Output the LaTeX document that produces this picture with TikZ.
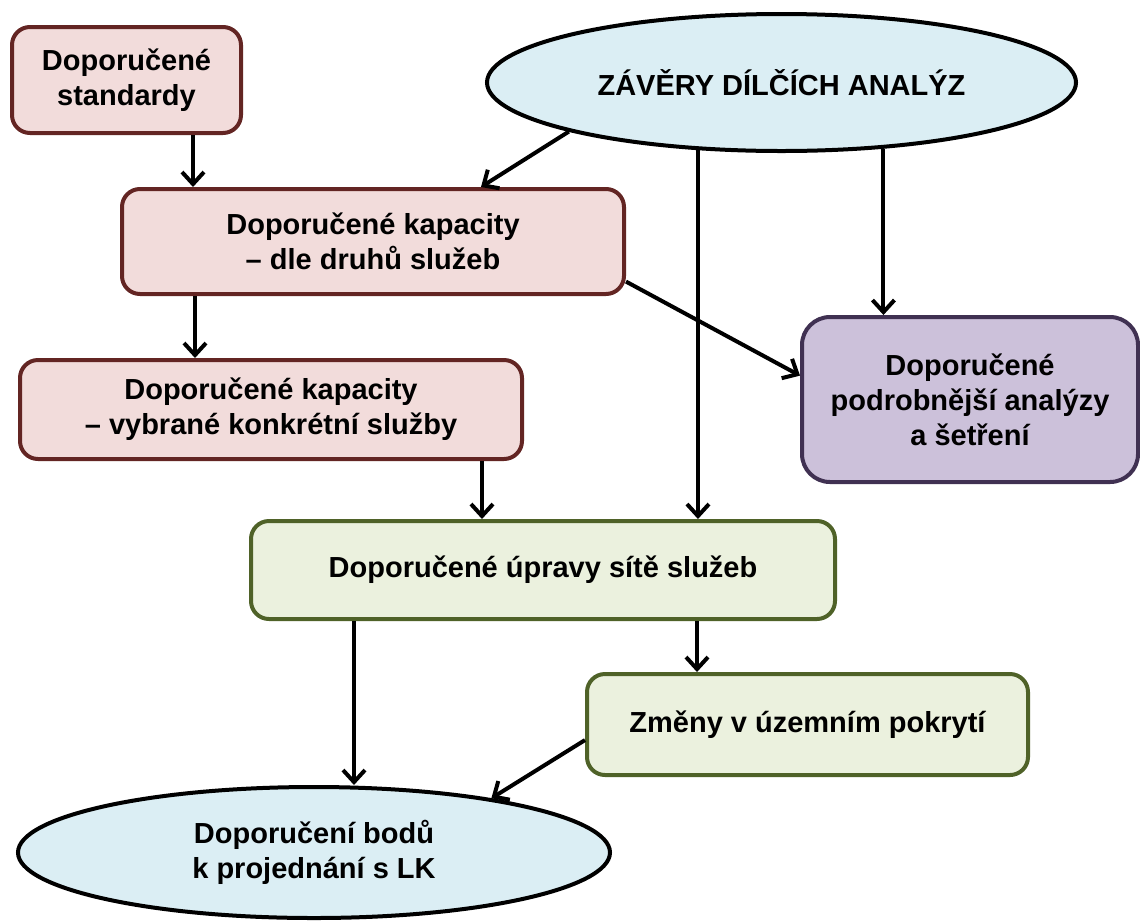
\documentclass[tikz,border=0pt]{standalone}
\usepackage{fontspec}
\setmainfont{Liberation Sans}
\usetikzlibrary{shapes.geometric,arrows.meta}
\definecolor{pinkfill}{HTML}{F2DCDB}
\definecolor{pinkdraw}{HTML}{632523}
\definecolor{purplefill}{HTML}{CCC1DA}
\definecolor{purpledraw}{HTML}{403152}
\definecolor{greenfill}{HTML}{EBF1DE}
\definecolor{greendraw}{HTML}{4F6228}
\definecolor{bluefill}{HTML}{DBEEF4}
\begin{document}
\begin{tikzpicture}[x=1pt,y=-1pt,
  box/.style={rectangle,rounded corners=18pt,line width=4pt,inner sep=0pt,align=center,
    font=\fontsize{29}{35}\selectfont\bfseries},
  pinkbox/.style={box,fill=pinkfill,draw=pinkdraw},
  purplebox/.style={box,fill=purplefill,draw=purpledraw,rounded corners=28pt},
  greenbox/.style={box,fill=greenfill,draw=greendraw},
  ell/.style={ellipse,line width=4pt,inner sep=0pt,align=center,fill=bluefill,draw=black,
    font=\fontsize{29}{35}\selectfont\bfseries},
  arr/.style={line width=4pt,-{Straight Barb[length=12pt,width=22pt]}}]
\useasboundingbox (0,0) rectangle (1140,922);
\node[pinkbox,minimum width=229pt,minimum height=106pt] (std) at (126.5,80) {Doporučené\\standardy};
\node[pinkbox,minimum width=502pt,minimum height=105pt] (kdr) at (373,241.5) {Doporučené kapacity\\– dle druhů služeb};
\node[pinkbox,minimum width=502pt,minimum height=99pt] (kvy) at (271,409.5) {Doporučené kapacity\\– vybrané konkrétní služby};
\node[purplebox,minimum width=336pt,minimum height=165pt] (pod) at (970,399.5) {Doporučené\\podrobnější analýzy\\a šetření};
\node[greenbox,minimum width=584pt,minimum height=98pt] (upr) at (543,570) {Doporučené úpravy sítě služeb};
\node[greenbox,minimum width=441pt,minimum height=101pt] (zme) at (807.5,724.5) {Změny v územním pokrytí};
\node[ell,minimum width=589pt,minimum height=137pt] (zav) at (781.5,82.5) {ZÁVĚRY DÍLČÍCH ANALÝZ};
\node[ell,minimum width=592pt,minimum height=131pt] (bod) at (314,852.5) {Doporučení bodů\\k projednání s LK};
\coordinate (x1) at (193,0);
\coordinate (x2) at (195,0);
\coordinate (x3) at (482,0);
\coordinate (x4) at (354,0);
\coordinate (x5) at (697,0);
\coordinate (x6) at (481,0);
\draw[arr] (std.south -| x1) -- (kdr.north -| x1);
\draw[arr] (kdr.south -| x2) -- (kvy.north -| x2);
\draw[arr] (kvy.south -| x3) -- (upr.north -| x3);
\draw[arr] (upr.south -| x4) -- (bod.north -| x4);
\draw[arr] (upr.south -| x5) -- (zme.north -| x5);
\draw[arr] (zav.219) -- (zav.219 |- upr.north);
\draw[arr] (zav.-33.7) -- (zav.-33.7 |- pod.north);
\draw[arr] (zav.193.4) -- (kdr.north -| x6);
\draw[arr] (kdr.-9.4) -- (pod.172.7);
\draw[arr] (zme.184.8) -- (bod.17);
\end{tikzpicture}
\end{document}
